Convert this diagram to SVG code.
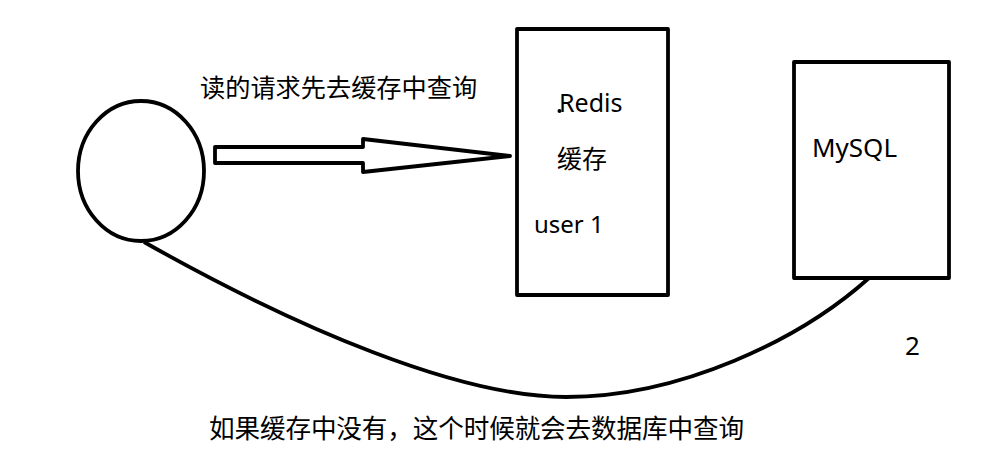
<svg xmlns="http://www.w3.org/2000/svg" width="992" height="453" viewBox="0 0 992 453">
<style>
.sh{fill:none;stroke:#000;stroke-width:3.8;stroke-linejoin:round}
.t{font-family:"Noto Sans","Noto Sans CJK SC",sans-serif;fill:#000}
.c{font-family:"Noto Sans CJK SC","Noto Sans",sans-serif;fill:#000}
</style>
<rect width="992" height="453" fill="#fff"/>
<g id="client">
<ellipse class="sh" cx="141" cy="171" rx="63" ry="70"/>
</g>
<g id="redis">
<rect class="sh" x="517" y="29" width="151" height="266"/>
<circle cx="559.5" cy="111" r="2" fill="#000"/>
<text class="t" x="559" y="112" font-size="25">Redis</text>
<text class="c" x="557" y="168" font-size="25">缓存</text>
<text class="t" x="534" y="233" font-size="24">user 1</text>
</g>
<g id="mysql">
<rect class="sh" x="794" y="62" width="155" height="216"/>
<text class="t" x="812" y="157" font-size="26">MySQL</text>
</g>
<g id="connectors">
<path class="sh" d="M215,147 L363,147 L363,139 L510,156 L363,172 L363,163 L215,163 Z"/>
<path class="sh" d="M144,242 C300,330 460,397 566,397 C680,397 800,340 869,278"/>
</g>
<g id="labels">
<text class="c" x="200" y="97" font-size="25.2">读的请求先去缓存中查询</text>
<text class="c" x="209" y="438" font-size="25.6" textLength="535" lengthAdjust="spacing">如果缓存中没有，这个时候就会去数据库中查询</text>
<text class="t" x="905" y="355" font-size="26">2</text>
</g>
</svg>
